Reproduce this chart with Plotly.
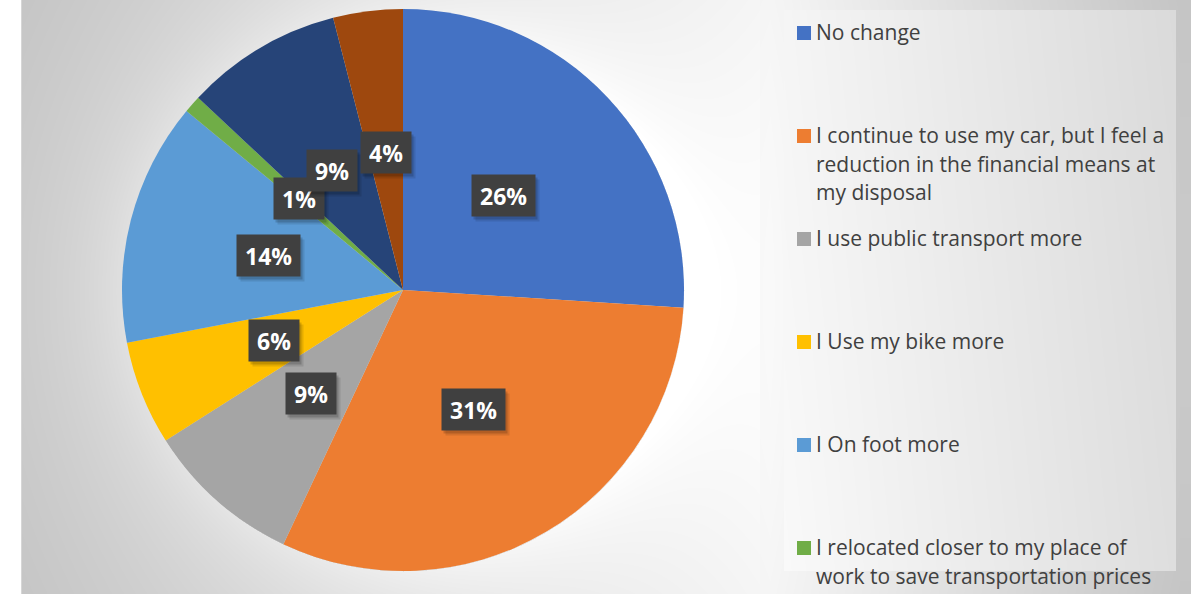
import base64
import struct
import zlib

import numpy as np
import plotly.graph_objects as go

# ---- figure geometry (pixels) ----
W, H = 1191, 594
PIE_CX, PIE_CY, PIE_R = 403, 290, 281        # pie centre / radius, from the top-left corner
LEGEND_BOX = (784, 10, 1176, 571)              # x0, y0, x1, y1
LEGEND_TOP, LEGEND_STEP = 33, 103              # first entry line centre and entry pitch
LEGEND_LINE = 28.7                             # line pitch inside a wrapped entry

# ---- data ----
legend_lines = [
    ["No change"],
    ["I continue to use my car, but I feel a",
     "reduction in the financial means at",
     "my disposal"],
    ["I use public transport more"],
    ["I Use my bike more"],
    ["I On foot more"],
    ["I relocated closer to my place of",
     "work to save transportation prices"],
    ["Other"],
    ["Other (2)"],
]
categories = [" ".join(lines) for lines in legend_lines]
shares = [26, 31, 9, 6, 14, 1, 9, 4]
colors = ["#4472C4", "#ED7D31", "#A5A5A5", "#FFC000",
          "#5B9BD5", "#70AD47", "#264478", "#9E480E"]


# ---- background: soft grey gradient, glow round the pie, legend panel ----
def png_data_uri(gray):
    h, w = gray.shape
    g = gray.astype(np.int16)
    prev = np.vstack([np.zeros((1, w), np.int16), g[:-1]])
    up = ((g - prev) % 256).astype(np.uint8)
    raw = b"".join(b"\x02" + up[i].tobytes() for i in range(h))

    def chunk(tag, data):
        body = tag + data
        return struct.pack(">I", len(data)) + body + struct.pack(">I", zlib.crc32(body) & 0xFFFFFFFF)

    png = (b"\x89PNG\r\n\x1a\n"
           + chunk(b"IHDR", struct.pack(">IIBBBBB", w, h, 8, 0, 0, 0, 0))
           + chunk(b"IDAT", zlib.compress(raw, 9))
           + chunk(b"IEND", b""))
    return "data:image/png;base64," + base64.b64encode(png).decode()


yy, xx = np.mgrid[0:H, 0:W].astype(float)
peak_x = 770.0
left = 249 - 48 * np.clip((peak_x - xx) / 748.0, 0, 1)
right = 249 - 48 * np.clip((xx - peak_x) / 410.0, 0, 1)
bg = np.where(xx <= peak_x, left, right)
bg -= 4 * ((yy - 300) / 300.0) ** 2

# light glow hugging the pie edge
d_out = np.hypot(xx - PIE_CX, yy - PIE_CY) - PIE_R
glow = np.where(d_out > 0, 16 * np.exp(-d_out / 60.0), 0)
bg += glow * (xx < 760)

# legend panel
lx0, ly0, lx1, ly1 = LEGEND_BOX
inside = (xx >= lx0) & (xx < lx1) & (yy >= ly0) & (yy < ly1)
panel = 249 - 27 * (xx - lx0) / (lx1 - lx0) - 4 * (1 - (yy - ly0) / (ly1 - ly0))
bg = np.where(inside, panel, bg)

# white margin strip and frame line on the left
bg[:, :21] = 255
bg[:, 21] = 214
bg_uri = png_data_uri(np.clip(np.round(bg), 0, 255).astype(np.uint8))

# ---- pie ----
dom_x = [(PIE_CX - PIE_R) / W, (PIE_CX + PIE_R) / W]
dom_y = [1 - (PIE_CY + PIE_R) / H, 1 - (PIE_CY - PIE_R) / H]

fig = go.Figure(go.Pie(
    labels=categories,
    values=shares,
    sort=False,
    direction="clockwise",
    rotation=0,
    marker=dict(colors=colors, line=dict(width=0)),
    textinfo="none",
    hoverinfo="label+percent",
    domain=dict(x=dom_x, y=dom_y),
    showlegend=False,
))

annotations = []
shapes = []

# data labels: dark boxes placed halfway out along each slice's mid-angle
total = float(sum(shares))
cum = 0.0
label_font = dict(family="Open Sans", size=23, color="white", weight=700)
for v in shares:
    mid = (cum + v / 2) / total * 2 * np.pi
    cum += v
    px = PIE_CX + 0.493 * PIE_R * np.sin(mid)
    py = PIE_CY - 0.493 * PIE_R * np.cos(mid)
    text = f"{round(v / total * 100)}%"
    common = dict(x=px / W, y=1 - py / H, xref="paper", yref="paper",
                  text=text, showarrow=False, xanchor="center", yanchor="middle",
                  height=25, borderpad=8)
    for sx, sy, a in ((2, -3, 0.16), (4, -5, 0.10)):
        annotations.append(dict(common, font=dict(label_font, color="rgba(0,0,0,0)"),
                                bgcolor=f"rgba(0,0,0,{a})", xshift=sx, yshift=sy))
    annotations.append(dict(common, font=label_font, bgcolor="#404040"))

# legend entries
for i, lines in enumerate(legend_lines):
    top = LEGEND_TOP + i * LEGEND_STEP
    if top > H:
        break
    shapes.append(dict(type="rect", xref="paper", yref="paper",
                       x0=797 / W, x1=811 / W, y0=1 - (top - 7) / H, y1=1 - (top + 7) / H,
                       fillcolor=colors[i], line=dict(width=0)))
    for j, line in enumerate(lines):
        yc = top + j * LEGEND_LINE
        annotations.append(dict(x=814 / W, y=1 - (yc - 1) / H, xref="paper", yref="paper",
                                text=line, showarrow=False, xanchor="left", yanchor="middle",
                                font=dict(family="Open Sans", size=21, color="#404040")))

fig.update_layout(
    width=W, height=H, autosize=False,
    margin=dict(l=0, r=0, t=0, b=0),
    paper_bgcolor="white",
    plot_bgcolor="rgba(0,0,0,0)",
    images=[dict(source=bg_uri, xref="paper", yref="paper", x=0, y=1, sizex=1, sizey=1,
                 sizing="stretch", xanchor="left", yanchor="top", layer="below")],
    shapes=shapes,
    annotations=annotations,
)

fig.write_html("out.html")
